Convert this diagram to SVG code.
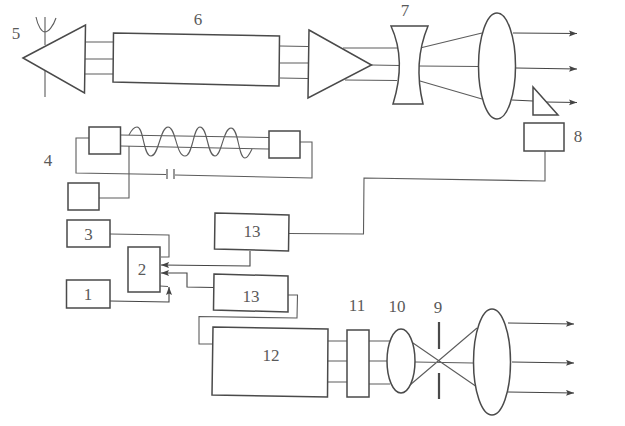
<svg xmlns="http://www.w3.org/2000/svg" width="625" height="426" viewBox="0 0 625 426">
<defs>
<marker id="a" markerUnits="userSpaceOnUse" markerWidth="10" markerHeight="8" refX="8" refY="3" orient="auto"><path d="M0 0L8 3L0 6L1.5 3Z" fill="#444"/></marker>
</defs>
<style>
.n{fill:#fff;stroke:#4a4a4a;stroke-width:1.5}
.c{fill:none;stroke:#5c5c5c;stroke-width:1.1}
.b{fill:none;stroke:#444;stroke-width:1.1}
.t{font-family:"Liberation Serif",serif;font-size:17px;fill:#5a5a5a;text-anchor:middle}
</style>
<rect width="625" height="426" fill="#fff"/>
<g id="connectors">
<path class="c" d="M45 17V45M45 71V97M36 17C38 27 42 32 45 32C48 32 53 27 56 18"/>
<path class="c" d="M85 42H113M85 59H113M85 74H113M280 46L308 46.500M280 63L308 63M280 78L308 78.500"/>
<path class="c" d="M343 48L399 48M371 65L400 65.500M345 80L397 80.500M420 48L482 33M418 66L479 66.500M420 81L482 99"/>
<path class="b" marker-end="url(#a)" d="M513 33L577 33.500"/>
<path class="b" marker-end="url(#a)" d="M516 68L577 69"/>
<path class="b" marker-end="url(#a)" d="M512 100L533 101M545 102L577 102.500"/>
<path class="c" d="M545 151V181L364 178L363.500 234L289 233.500"/>
<path class="c" d="M120 135L269 137.500M120 146L269 149"/>
<path class="c" d="M129 135C132 129 135 127 137 127C144 127 143 156 151 156C159 156 160 127 168 127C176 127 176 156 185 156C193 156 193 127 200 127C208 127 207 156 215 156C222 156 223 128 231 128C239 128 238 158 245 158C248 158 250 153 252 149"/>
<path class="c" d="M89 138H76V173L166 174.500M175 175L312 178V142H300"/>
<path class="b" d="M167 169V179M174 169V179" stroke-width="1.4"/>
<path class="c" d="M99 198H129V146"/>
<path class="c" d="M110 234L169 235V257H161"/>
<path class="c" d="M160 286L168 286.500"/>
<path class="b" marker-end="url(#a)" d="M110 301L169 302V287"/>
<path class="b" marker-end="url(#a)" d="M250 251V266L161 265"/>
<path class="b" marker-end="url(#a)" d="M214 287.500L187 287V273H161"/>
<path class="c" d="M288 295H297.500L297 318L199 316.500V344H212"/>
<path class="c" d="M328 341H347M328 361H347M328 382H347M369 341H390M369 361H388M369 384H390"/>
<path class="c" d="M413 343L477 387M410 385L477 328M415 362L473 363"/>
<path class="b" marker-end="url(#a)" d="M508 323L574 324"/>
<path class="b" marker-end="url(#a)" d="M512 362L574 363"/>
<path class="b" marker-end="url(#a)" d="M508 392L574 393"/>
</g>
<g id="node5"><path class="n" d="M23 58L85.500 25L84.500 93Z"/><text class="t" x="16" y="39">5</text></g>
<g id="node6"><path class="n" d="M113.500 33L279.500 36L279 86L113 82Z"/><text class="t" x="198" y="25">6</text></g>
<g id="amp"><path class="n" d="M309 30L371.500 65L308 98Z" fill="none"/></g>
<g id="node7"><path class="n" d="M391 26H428C418 50 416 75 423 104H393C402 75 402 50 391 26Z"/><text class="t" x="405" y="16">7</text></g>
<g id="lens-top"><ellipse class="n" cx="497" cy="66" rx="18.500" ry="53"/></g>
<g id="prism"><path class="n" d="M533 87V115H558Z"/></g>
<g id="node8"><rect class="n" x="524" y="123" width="40" height="28"/><text class="t" x="578" y="142">8</text></g>
<g id="node4"><text class="t" x="48" y="166">4</text></g>
<g id="tube-left"><rect class="n" x="89" y="127" width="31.500" height="27"/></g>
<g id="tube-right"><rect class="n" x="269" y="131" width="31" height="27"/></g>
<g id="supply"><rect class="n" x="68" y="183" width="31" height="27"/></g>
<g id="node3"><rect class="n" x="67" y="220" width="43" height="27"/><text class="t" x="88.500" y="240">3</text></g>
<g id="node1"><rect class="n" x="66.500" y="280" width="43.500" height="28"/><text class="t" x="88" y="300">1</text></g>
<g id="node2"><rect class="n" x="128" y="247" width="32" height="45"/><text class="t" x="142" y="275">2</text></g>
<g id="node13a"><path class="n" d="M215 213L289 215L288.500 251L214.500 249Z"/><text class="t" x="252" y="237">13</text></g>
<g id="node13b"><path class="n" d="M214 274L288 276L288 312L213.500 310Z"/><text class="t" x="251" y="302">13</text></g>
<g id="node12"><path class="n" d="M213 327L328 329L327.500 397L212 395Z"/><text class="t" x="271" y="361">12</text></g>
<g id="node11"><rect class="n" x="347" y="330" width="22" height="67"/><text class="t" x="357" y="311">11</text></g>
<g id="node10"><ellipse class="n" cx="401" cy="361" rx="14" ry="32"/><text class="t" x="397" y="312">10</text></g>
<g id="node9"><path d="M439 322V349M439 373V399" fill="none" stroke="#4a4a4a" stroke-width="2.200"/><text class="t" x="438" y="313">9</text></g>
<g id="lens-bottom"><ellipse class="n" cx="492" cy="362" rx="18.500" ry="53"/></g>
</svg>
